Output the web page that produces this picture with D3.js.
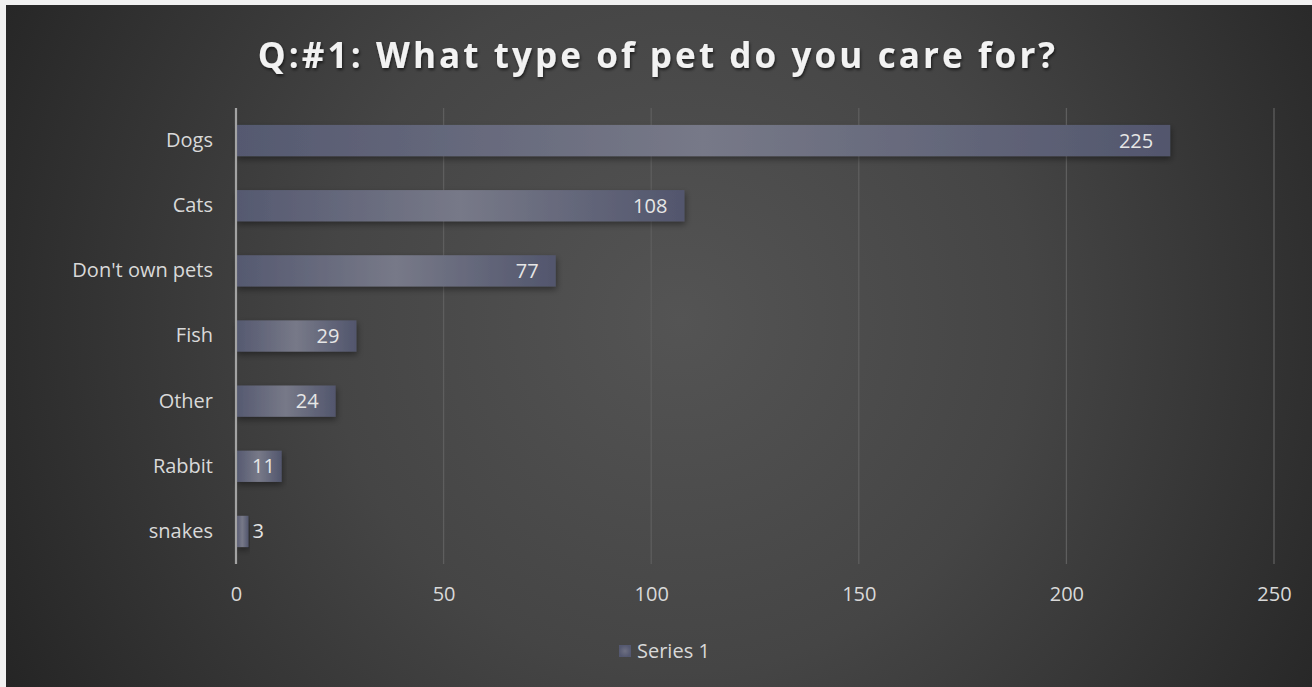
<!DOCTYPE html>
<html>
<head>
<meta charset="utf-8">
<script src="https://cdn.jsdelivr.net/npm/d3@7/dist/d3.min.js"></script>
<style>
  html, body { margin: 0; padding: 0; background: #f1f1f1; }
  svg { display: block; }
  text { font-family: "Open Sans", "Noto Sans", sans-serif; }
</style>
</head>
<body>
<svg id="chart" width="1312" height="687"></svg>
<script>
// Survey answers, in display order
const categories = ["Dogs", "Cats", "Don't own pets", "Fish", "Other", "Rabbit", "snakes"];
const values = [225, 108, 77, 29, 24, 11, 3];
const xTicks = [0, 50, 100, 150, 200, 250];
const seriesName = "Series 1";
const title = "Q:#1: What type of pet do you care for?";

const W = 1312, H = 687;
const svg = d3.select("#chart");
const defs = svg.append("defs");

// Panel background: soft radial light near the middle, darker corners
const bg = defs.append("radialGradient").attr("id", "bgGrad")
  .attr("gradientUnits", "userSpaceOnUse")
  .attr("cx", 680).attr("cy", 320).attr("r", 780);
bg.append("stop").attr("offset", "0%").attr("stop-color", "#545454");
bg.append("stop").attr("offset", "45%").attr("stop-color", "#454545");
bg.append("stop").attr("offset", "100%").attr("stop-color", "#242424");

// Bar fill: lighter sheen towards the middle of each bar
const barGrad = defs.append("linearGradient").attr("id", "barGrad")
  .attr("x1", "0%").attr("x2", "100%").attr("y1", "0%").attr("y2", "0%");
barGrad.append("stop").attr("offset", "0%").attr("stop-color", "#555970");
barGrad.append("stop").attr("offset", "50%").attr("stop-color", "#777988");
barGrad.append("stop").attr("offset", "100%").attr("stop-color", "#52566d");

const legendGrad = defs.append("radialGradient").attr("id", "legendGrad");
legendGrad.append("stop").attr("offset", "0%").attr("stop-color", "#6e7082");
legendGrad.append("stop").attr("offset", "100%").attr("stop-color", "#545870");

const shadow = defs.append("filter").attr("id", "barShadow")
  .attr("x", "-5%").attr("y", "-30%").attr("width", "115%").attr("height", "180%");
shadow.append("feDropShadow").attr("dx", 1).attr("dy", 3).attr("stdDeviation", 3)
  .attr("flood-color", "#000").attr("flood-opacity", 0.4);

const titleShadow = defs.append("filter").attr("id", "titleShadow")
  .attr("x", "-5%").attr("y", "-30%").attr("width", "110%").attr("height", "160%");
titleShadow.append("feDropShadow").attr("dx", 1).attr("dy", 2).attr("stdDeviation", 1.5)
  .attr("flood-color", "#000").attr("flood-opacity", 0.6);

svg.append("rect").attr("x", 6).attr("y", 5).attr("width", W - 6).attr("height", H - 5)
  .attr("fill", "url(#bgGrad)");

// Plot area
const margin = { left: 236, right: 38, top: 108, bottom: 123 };
const x = d3.scaleLinear().domain([0, 250]).range([margin.left, W - margin.right]);
const y = d3.scaleBand().domain(categories).range([margin.top, H - margin.bottom])
  .paddingInner(0.52).paddingOuter(0.26);

const labelSize = 20;

// Vertical gridlines
svg.append("g").selectAll("line").data(xTicks.slice(1)).join("line")
  .attr("x1", d => x(d)).attr("x2", d => x(d))
  .attr("y1", margin.top).attr("y2", H - margin.bottom)
  .attr("stroke", "#5e5e5e").attr("stroke-width", 1.3);

// X axis tick labels
const xAxis = svg.append("g")
  .attr("transform", `translate(0,${H - margin.bottom})`)
  .call(d3.axisBottom(x).tickValues(xTicks).tickSize(0).tickPadding(23));
xAxis.select(".domain").remove();
xAxis.selectAll("text").attr("fill", "#d9d9d9").attr("font-size", labelSize);

// Category axis
const yAxis = svg.append("g")
  .attr("transform", `translate(${margin.left},0)`)
  .call(d3.axisLeft(y).tickSize(0).tickPadding(23));
yAxis.select(".domain").remove();
yAxis.selectAll("text").attr("fill", "#d9d9d9").attr("font-size", labelSize);

// Bars
const rows = categories.map((c, i) => ({ cat: c, val: values[i] }));
svg.append("g").selectAll("rect").data(rows).join("rect")
  .attr("x", x(0))
  .attr("y", d => y(d.cat))
  .attr("width", d => x(d.val) - x(0))
  .attr("height", y.bandwidth())
  .attr("fill", "url(#barGrad)")
  .attr("filter", "url(#barShadow)");

// Value axis baseline
svg.append("line")
  .attr("x1", x(0)).attr("x2", x(0))
  .attr("y1", margin.top).attr("y2", H - margin.bottom)
  .attr("stroke", "#a3a3a3").attr("stroke-width", 2.2);

// Data labels: inside the bar end, or just outside when the bar is too short
svg.append("g").selectAll("text").data(rows).join("text")
  .attr("y", d => y(d.cat) + y.bandwidth() / 2)
  .attr("dy", "0.35em")
  .attr("fill", "#e6e6e6")
  .attr("font-size", labelSize)
  .text(d => d.val)
  .each(function (d) {
    const t = d3.select(this);
    const w = x(d.val) - x(0);
    const tw = this.getComputedTextLength();
    if (w > tw + 12) {
      const pad = Math.min(17, w - tw - 16);
      t.attr("x", x(d.val) - pad).attr("text-anchor", "end");
    } else {
      t.attr("x", x(d.val) + 4).attr("text-anchor", "start");
    }
  });

// Title
svg.append("text")
  .attr("x", 658).attr("y", 68)
  .attr("text-anchor", "middle")
  .attr("fill", "#f2f2f2")
  .attr("font-size", 35)
  .attr("font-weight", 700)
  .attr("letter-spacing", 3.1)
  .attr("filter", "url(#titleShadow)")
  .text(title);

// Legend
const legend = svg.append("g").attr("transform", "translate(619,645)");
legend.append("rect").attr("width", 12).attr("height", 12).attr("fill", "url(#legendGrad)");
legend.append("text").attr("x", 18).attr("y", 6).attr("dy", "0.35em")
  .attr("fill", "#d9d9d9").attr("font-size", labelSize).text(seriesName);
</script>
</body>
</html>
